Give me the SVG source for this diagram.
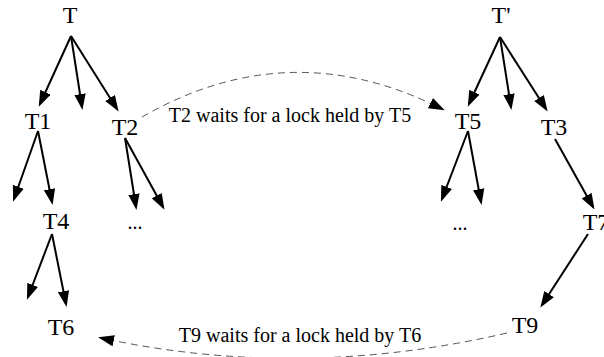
<svg xmlns="http://www.w3.org/2000/svg" width="604" height="357" viewBox="0 0 604 357">
  <style>
    .node { font-family: 'Liberation Serif', 'Times New Roman', serif; font-size: 24px; fill: #000; text-anchor: middle; }
    .dots { font-family: 'Liberation Serif', 'Times New Roman', serif; font-size: 20px; fill: #000; text-anchor: middle; }
    .lbl { font-family: 'Liberation Serif', 'Times New Roman', serif; font-size: 20px; fill: #000; text-anchor: middle; }
    .edge { stroke: #000; stroke-width: 2; fill: none; marker-end: url(#head); }
    .wait { stroke: #555; stroke-width: 1; stroke-dasharray: 7 5; fill: none; marker-end: url(#head); }
  </style>
  <defs>
    <marker id="head" markerUnits="userSpaceOnUse" markerWidth="17" markerHeight="12" refX="13" refY="6" orient="auto">
      <path d="M0,0.3 L16,6 L0,11.7 z" fill="#000"/>
    </marker>
  </defs>
  <rect width="604" height="357" fill="#fff"/>

  <g id="connectors">
    <!-- tree T -->
    <line class="edge" x1="71" y1="36" x2="40" y2="104"/>
    <line class="edge" x1="71" y1="36" x2="82" y2="107"/>
    <line class="edge" x1="71" y1="36" x2="117" y2="109"/>
    <line class="edge" x1="38" y1="131" x2="14" y2="199"/>
    <line class="edge" x1="38" y1="131" x2="52" y2="202"/>
    <line class="edge" x1="125" y1="138" x2="136" y2="207"/>
    <line class="edge" x1="125" y1="138" x2="163" y2="207"/>
    <line class="edge" x1="52" y1="234" x2="28" y2="297"/>
    <line class="edge" x1="52" y1="234" x2="66" y2="304"/>
    <!-- tree T' -->
    <line class="edge" x1="500" y1="37" x2="469" y2="104"/>
    <line class="edge" x1="500" y1="37" x2="511" y2="107"/>
    <line class="edge" x1="500" y1="37" x2="546" y2="109"/>
    <line class="edge" x1="468" y1="131" x2="442" y2="199"/>
    <line class="edge" x1="468" y1="131" x2="481" y2="202"/>
    <line class="edge" x1="555" y1="139" x2="593" y2="207"/>
    <line class="edge" x1="588" y1="234" x2="542" y2="305"/>
    <!-- wait-for edges -->
    <path class="wait" d="M142,117 Q290,32 442,109"/>
    <path class="wait" d="M507,333 Q300,381 101,338"/>
  </g>

  <g id="T"><text class="node" x="70" y="23">T</text></g>
  <g id="T1"><text class="node" x="38" y="129">T1</text></g>
  <g id="T2"><text class="node" x="125" y="135">T2</text></g>
  <g id="T4"><text class="node" x="56" y="229">T4</text></g>
  <g id="T6"><text class="node" x="61" y="335">T6</text></g>
  <g id="dots-left"><text class="dots" x="135" y="229">...</text></g>

  <g id="Tprime"><text class="node" x="501" y="23">T'</text></g>
  <g id="T5"><text class="node" x="468" y="129">T5</text></g>
  <g id="T3"><text class="node" x="554" y="135">T3</text></g>
  <g id="T7"><text class="node" x="596" y="230">T7</text></g>
  <g id="T9"><text class="node" x="525" y="333">T9</text></g>
  <g id="dots-right"><text class="dots" x="460" y="230">...</text></g>

  <g id="labels">
    <text class="lbl" x="290" y="122">T2 waits for a lock held by T5</text>
    <text class="lbl" x="300" y="342">T9 waits for a lock held by T6</text>
  </g>
</svg>
